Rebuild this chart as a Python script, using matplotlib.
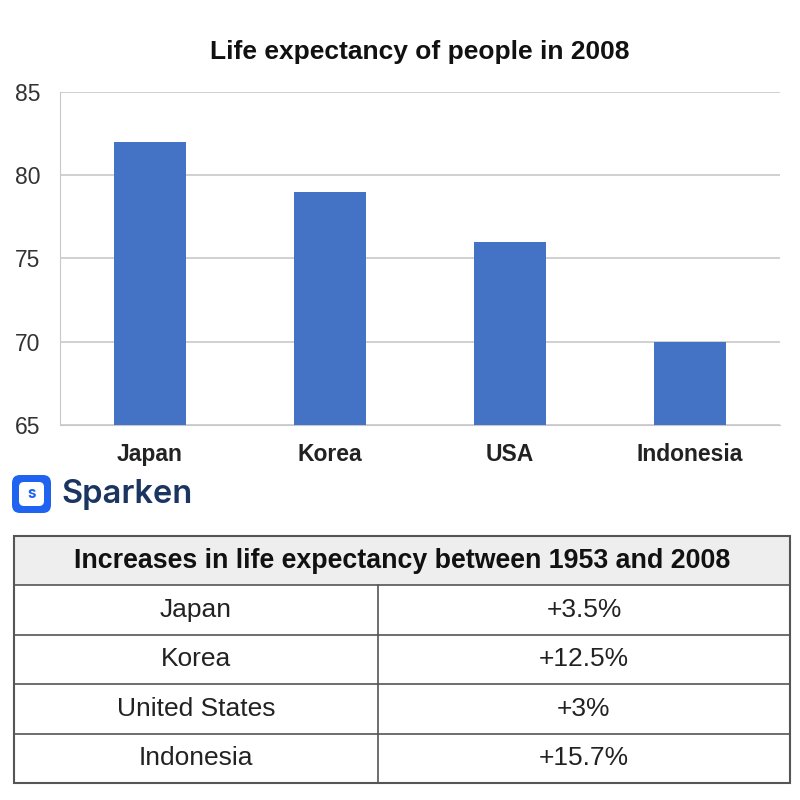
import matplotlib.pyplot as plt
from matplotlib.patches import FancyBboxPatch

# Дані
countries = ["Japan", "Korea", "USA", "Indonesia"]
life_2008 = [82, 79, 76, 70]
table_title = "Increases in life expectancy between 1953 and 2008"
table_countries = ["Japan", "Korea", "United States", "Indonesia"]
table_increase = ["+3.5%", "+12.5%", "+3%", "+15.7%"]

plt.rcParams['font.family'] = ['Liberation Sans', 'DejaVu Sans']

fig = plt.figure(figsize=(8, 8), dpi=100)

# ================================
# Стовпчикова діаграма
# ================================
ax = fig.add_axes([0.075, 0.46875, 0.9, 0.41625])
ax.bar(range(len(countries)), life_2008, width=0.4, color="#4472c4", zorder=3)
ax.set_xlim(-0.5, len(countries) - 0.5)
ax.set_ylim(65, 85)
ax.set_yticks([65, 70, 75, 80, 85])
ax.set_xticks(range(len(countries)))
ax.set_xticklabels(countries, fontsize=16.5, fontweight="bold", color="#222222")
ax.tick_params(axis="y", labelsize=16.5, labelcolor="#333333", length=0, pad=14)
ax.tick_params(axis="x", length=0, pad=13)
ax.grid(axis="y", color="#c8c8c8", linewidth=1.2, zorder=0)
for s in ["top", "right"]:
    ax.spines[s].set_visible(False)
ax.spines["left"].set_color("#c8c8c8")
ax.spines["bottom"].set_color("#c8c8c8")
ax.set_title("Life expectancy of people in 2008", fontsize=19, fontweight="bold",
             color="#111111", pad=24)

# ================================
# Логотип
# ================================
lax = fig.add_axes([0, 0, 1, 1], facecolor="none")
lax.set_xlim(0, 800)
lax.set_ylim(800, 0)
lax.axis("off")
lax.add_patch(FancyBboxPatch((12, 475), 39, 38, boxstyle="round,pad=0,rounding_size=8",
                             facecolor="#1f63f0", edgecolor="none"))
lax.add_patch(FancyBboxPatch((19, 482), 25, 24, boxstyle="round,pad=0,rounding_size=5",
                             facecolor="white", edgecolor="none"))
lax.text(31.5, 494, "s", fontsize=11, fontweight="bold", color="#1f63f0",
         ha="center", va="center", family="Inter")
lax.text(61, 494, "Sparken", fontsize=23.5, fontweight="semibold", color="#1b3561",
         ha="left", va="center", family="Inter")

# ================================
# Таблиця
# ================================
tax = fig.add_axes([14 / 800, 1 - 783 / 800, (790 - 14) / 800, (783 - 536) / 800])
n = len(table_countries) + 1
tax.set_xlim(0, 1)
tax.set_ylim(n, 0)
tax.axis("off")
split = (378 - 14) / (790 - 14)
tax.add_patch(plt.Rectangle((0, 0), 1, 1, facecolor="#eeeeee", edgecolor="none"))
tax.add_patch(plt.Rectangle((0, 0), 1, n, facecolor="none", edgecolor="#555555",
                            linewidth=1.5, clip_on=False))
for i in range(1, n):
    tax.axhline(i, color="#555555", linewidth=1.2)
tax.plot([split, split], [1, n], color="#555555", linewidth=1.2)
tax.text(0.5, 0.5, table_title, ha="center", va="center", fontsize=19.3,
         fontweight="bold", color="#111111")
for i, (c, v) in enumerate(zip(table_countries, table_increase)):
    tax.text(split / 2, i + 1.5, c, ha="center", va="center", fontsize=19, color="#222222")
    tax.text((split + 1) / 2, i + 1.5, v, ha="center", va="center", fontsize=19, color="#222222")

fig.savefig("out.png", dpi=100)
